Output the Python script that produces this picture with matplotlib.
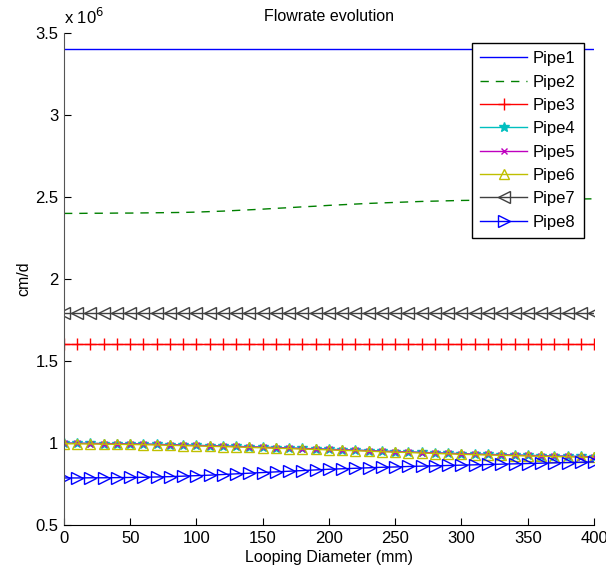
import matplotlib
matplotlib.use("Agg")
import matplotlib.pyplot as plt
from matplotlib.ticker import FuncFormatter

# looping diameter (mm)
diameters = [0, 10, 20, 30, 40, 50, 60, 70, 80, 90, 100, 110, 120, 130, 140,
             150, 160, 170, 180, 190, 200, 210, 220, 230, 240, 250, 260, 270,
             280, 290, 300, 310, 320, 330, 340, 350, 360, 370, 380, 390, 400]

# flowrates, in units of 1e6 cm/d
pipe1 = [3.400] * 41
pipe2 = [2.400, 2.400, 2.401, 2.401, 2.402, 2.402, 2.403, 2.404, 2.405, 2.406,
         2.408, 2.411, 2.414, 2.418, 2.422, 2.426, 2.431, 2.435, 2.440, 2.444,
         2.449, 2.453, 2.457, 2.461, 2.464, 2.467, 2.470, 2.473, 2.475, 2.477,
         2.479, 2.480, 2.482, 2.483, 2.484, 2.485, 2.486, 2.487, 2.488, 2.488,
         2.489]
pipe3 = [1.605] * 41
pipe4 = [1.000, 0.999, 0.998, 0.997, 0.996, 0.995, 0.994, 0.992, 0.990, 0.988,
         0.986, 0.984, 0.982, 0.980, 0.977, 0.975, 0.972, 0.970, 0.967, 0.965,
         0.962, 0.959, 0.957, 0.954, 0.951, 0.948, 0.946, 0.943, 0.940, 0.938,
         0.935, 0.933, 0.931, 0.929, 0.927, 0.925, 0.923, 0.921, 0.920, 0.918,
         0.917]
pipe5 = [0.999, 0.998, 0.997, 0.996, 0.995, 0.994, 0.993, 0.991, 0.989, 0.987,
         0.985, 0.983, 0.981, 0.979, 0.976, 0.974, 0.971, 0.969, 0.966, 0.964,
         0.961, 0.958, 0.956, 0.953, 0.950, 0.947, 0.945, 0.942, 0.939, 0.937,
         0.934, 0.932, 0.930, 0.928, 0.926, 0.924, 0.922, 0.920, 0.919, 0.917,
         0.916]
pipe6 = [0.996, 0.995, 0.994, 0.993, 0.992, 0.991, 0.990, 0.988, 0.986, 0.984,
         0.982, 0.980, 0.978, 0.976, 0.973, 0.971, 0.968, 0.966, 0.963, 0.961,
         0.958, 0.955, 0.953, 0.950, 0.947, 0.944, 0.942, 0.939, 0.936, 0.934,
         0.931, 0.929, 0.927, 0.925, 0.923, 0.921, 0.919, 0.917, 0.916, 0.914,
         0.913]
pipe7 = [1.793] * 41
pipe8 = [0.787, 0.787, 0.788, 0.788, 0.789, 0.790, 0.791, 0.793, 0.795, 0.798,
         0.801, 0.804, 0.808, 0.812, 0.816, 0.820, 0.824, 0.828, 0.832, 0.836,
         0.840, 0.843, 0.846, 0.849, 0.852, 0.854, 0.857, 0.859, 0.861, 0.863,
         0.865, 0.867, 0.869, 0.871, 0.873, 0.875, 0.877, 0.879, 0.881, 0.883,
         0.885]

labels = ["Pipe1", "Pipe2", "Pipe3", "Pipe4", "Pipe5", "Pipe6", "Pipe7", "Pipe8"]


def main():
    plt.rcParams['font.family'] = ['Liberation Sans', 'DejaVu Sans']
    plt.rcParams['font.size'] = 10

    fig = plt.figure(figsize=(6.06, 5.80), dpi=100)
    ax = fig.add_axes([0.1056, 0.0948, 0.8746, 0.8483])

    scale = 1e6
    series = [pipe1, pipe2, pipe3, pipe4, pipe5, pipe6, pipe7, pipe8]
    styles = [
        dict(color=(0, 0, 1), linestyle='-', marker=None),
        dict(color=(0, 0.5, 0), linestyle=(0, (6, 5)), marker=None),
        dict(color=(1, 0, 0), linestyle='-', marker='+', markersize=9),
        dict(color=(0, 0.75, 0.75), linestyle='-', marker='*', markersize=7),
        dict(color=(0.75, 0, 0.75), linestyle='-', marker='x', markersize=5),
        dict(color=(0.75, 0.75, 0), linestyle='-', marker='^', markersize=7,
             markerfacecolor='none'),
        dict(color=(0.25, 0.25, 0.25), linestyle='-', marker='<', markersize=8,
             markerfacecolor='none'),
        dict(color=(0, 0, 1), linestyle='-', marker='>', markersize=8,
             markerfacecolor='none'),
    ]
    for values, label, st in zip(series, labels, styles):
        ax.plot(diameters, [v * scale for v in values], label=label,
                linewidth=1.0, markeredgewidth=1.0, **st)

    # axes limits and ticks
    ax.set_xlim(0, 400)
    ax.set_ylim(0.5e6, 3.5e6)
    ax.set_xticks(range(0, 401, 50))
    ax.set_yticks([0.5e6, 1e6, 1.5e6, 2e6, 2.5e6, 3e6, 3.5e6])
    ax.yaxis.set_major_formatter(FuncFormatter(lambda v, p: '%g' % (v / scale)))
    ax.tick_params(direction='in', length=5, labelsize=12, pad=4)
    ax.spines['top'].set_visible(False)
    ax.spines['right'].set_visible(False)
    ax.spines['left'].set_color('#555555')

    ax.text(0.0, 1.012, r'x 10$^{6}$', transform=ax.transAxes,
            fontsize=12, ha='left', va='bottom')

    ax.set_title('Flowrate evolution', fontsize=11.5, pad=9)
    ax.set_xlabel('Looping Diameter (mm)', fontsize=11.5, labelpad=3)
    ax.set_ylabel('cm/d', fontsize=11.5, labelpad=3)

    leg = ax.legend(loc='upper right', bbox_to_anchor=(0.981, 0.98),
                    borderaxespad=0, fancybox=False, framealpha=1,
                    edgecolor='black', fontsize=12, handlelength=2.8,
                    labelspacing=0.5, borderpad=0.5, handletextpad=0.35)
    leg.get_frame().set_linewidth(1.0)

    fig.savefig('out.png', dpi=100)


if __name__ == '__main__':
    main()
